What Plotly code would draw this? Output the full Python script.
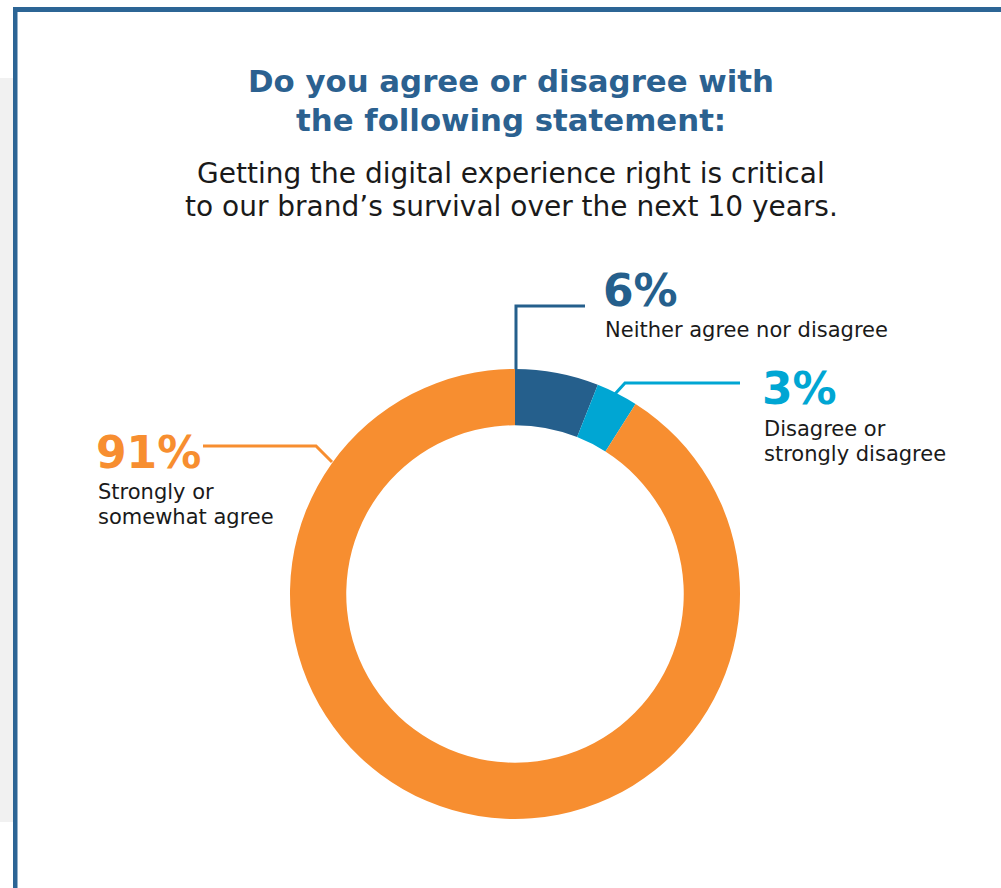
import plotly.graph_objects as go

# ---- data ----
categories = ["Neither agree nor disagree", "Disagree or strongly disagree", "Strongly or somewhat agree"]
values = [6, 3, 91]
pct_labels = ["6%", "3%", "91%"]
label_lines = [["Neither agree nor disagree"], ["Disagree or", "strongly disagree"], ["Strongly or", "somewhat agree"]]
colors = ["#255f8c", "#00a6d3", "#f78e30"]

title_lines = ["Do you agree or disagree with", "the following statement:"]
subtitle_lines = ["Getting the digital experience right is critical",
                  "to our brand\u2019s survival over the next 10 years."]

W, H = 1001, 888
FONT = "DejaVu Sans"
ASC = 0.928  # font ascent (em)


def px(x):
    return x / W


def py(y):
    return 1 - y / H


# donut placement (pixels)
cx, cy, R = 515, 594, 225

fig = go.Figure(go.Pie(
    labels=categories, values=values, sort=False, direction="clockwise", rotation=0,
    hole=0.75, marker=dict(colors=colors, line=dict(width=0)),
    textinfo="none", hoverinfo="label+percent", showlegend=False,
    domain=dict(x=[px(cx - R), px(cx + R)], y=[py(cy + R), py(cy - R)]),
))

shapes = []
# grey side panel
shapes.append(dict(type="rect", xref="paper", yref="paper", x0=px(0), x1=px(13), y0=py(822), y1=py(78),
                   fillcolor="#f1f1f1", line=dict(width=0), layer="below"))
# frame
shapes.append(dict(type="rect", xref="paper", yref="paper", x0=px(13), x1=px(W + 5), y0=py(7), y1=py(12),
                   fillcolor="#2c6595", line=dict(width=0)))
shapes.append(dict(type="rect", xref="paper", yref="paper", x0=px(13), x1=px(17.5), y0=py(H + 5), y1=py(7),
                   fillcolor="#2c6595", line=dict(width=0)))


def path(points):
    return "M " + " L ".join(f"{px(x):.5f},{py(y):.5f}" for x, y in points)


# leader lines
leaders = [
    [(516, 369), (516, 306), (585, 306)],
    [(615, 394), (625, 383), (740, 383)],
    [(332, 462), (316, 446), (203, 446)],
]
for pts, c in zip(leaders, colors):
    shapes.append(dict(type="path", xref="paper", yref="paper", path=path(pts),
                       line=dict(color=c, width=3)))

annotations = []


def text(s, x, baseline, size, color, weight="normal", xanchor="left"):
    annotations.append(dict(text=s, x=px(x), y=py(baseline - ASC * size - 1), xref="paper", yref="paper",
                            xanchor=xanchor, yanchor="top", showarrow=False,
                            font=dict(family=FONT, size=size, color=color, weight=weight)))


# title and subtitle
for ln, b in zip(title_lines, [91, 130]):
    text(ln, 511, b, 30.8, "#2b6190", weight="bold", xanchor="center")
for ln, b in zip(subtitle_lines, [182, 215]):
    text(ln, 511, b, 28, "#1a1a1a", xanchor="center")

# value labels
label_pos = [(603, 305, 336), (762, 403, 435), (96, 467, 498)]
for (lx, pb, lb), p, lines, c in zip(label_pos, pct_labels, label_lines, colors):
    text(p, lx - 2, pb, 44, c, weight="bold")
    for i, ln in enumerate(lines):
        text(ln, lx, lb + 25 * i, 21, "#1a1a1a")

fig.update_layout(
    width=W, height=H, margin=dict(l=0, r=0, t=0, b=0),
    paper_bgcolor="white", plot_bgcolor="white",
    shapes=shapes, annotations=annotations,
)

fig.write_html("out.html", config={"displayModeBar": False},
               post_script="document.body.style.margin='0';document.body.style.overflow='hidden';")
